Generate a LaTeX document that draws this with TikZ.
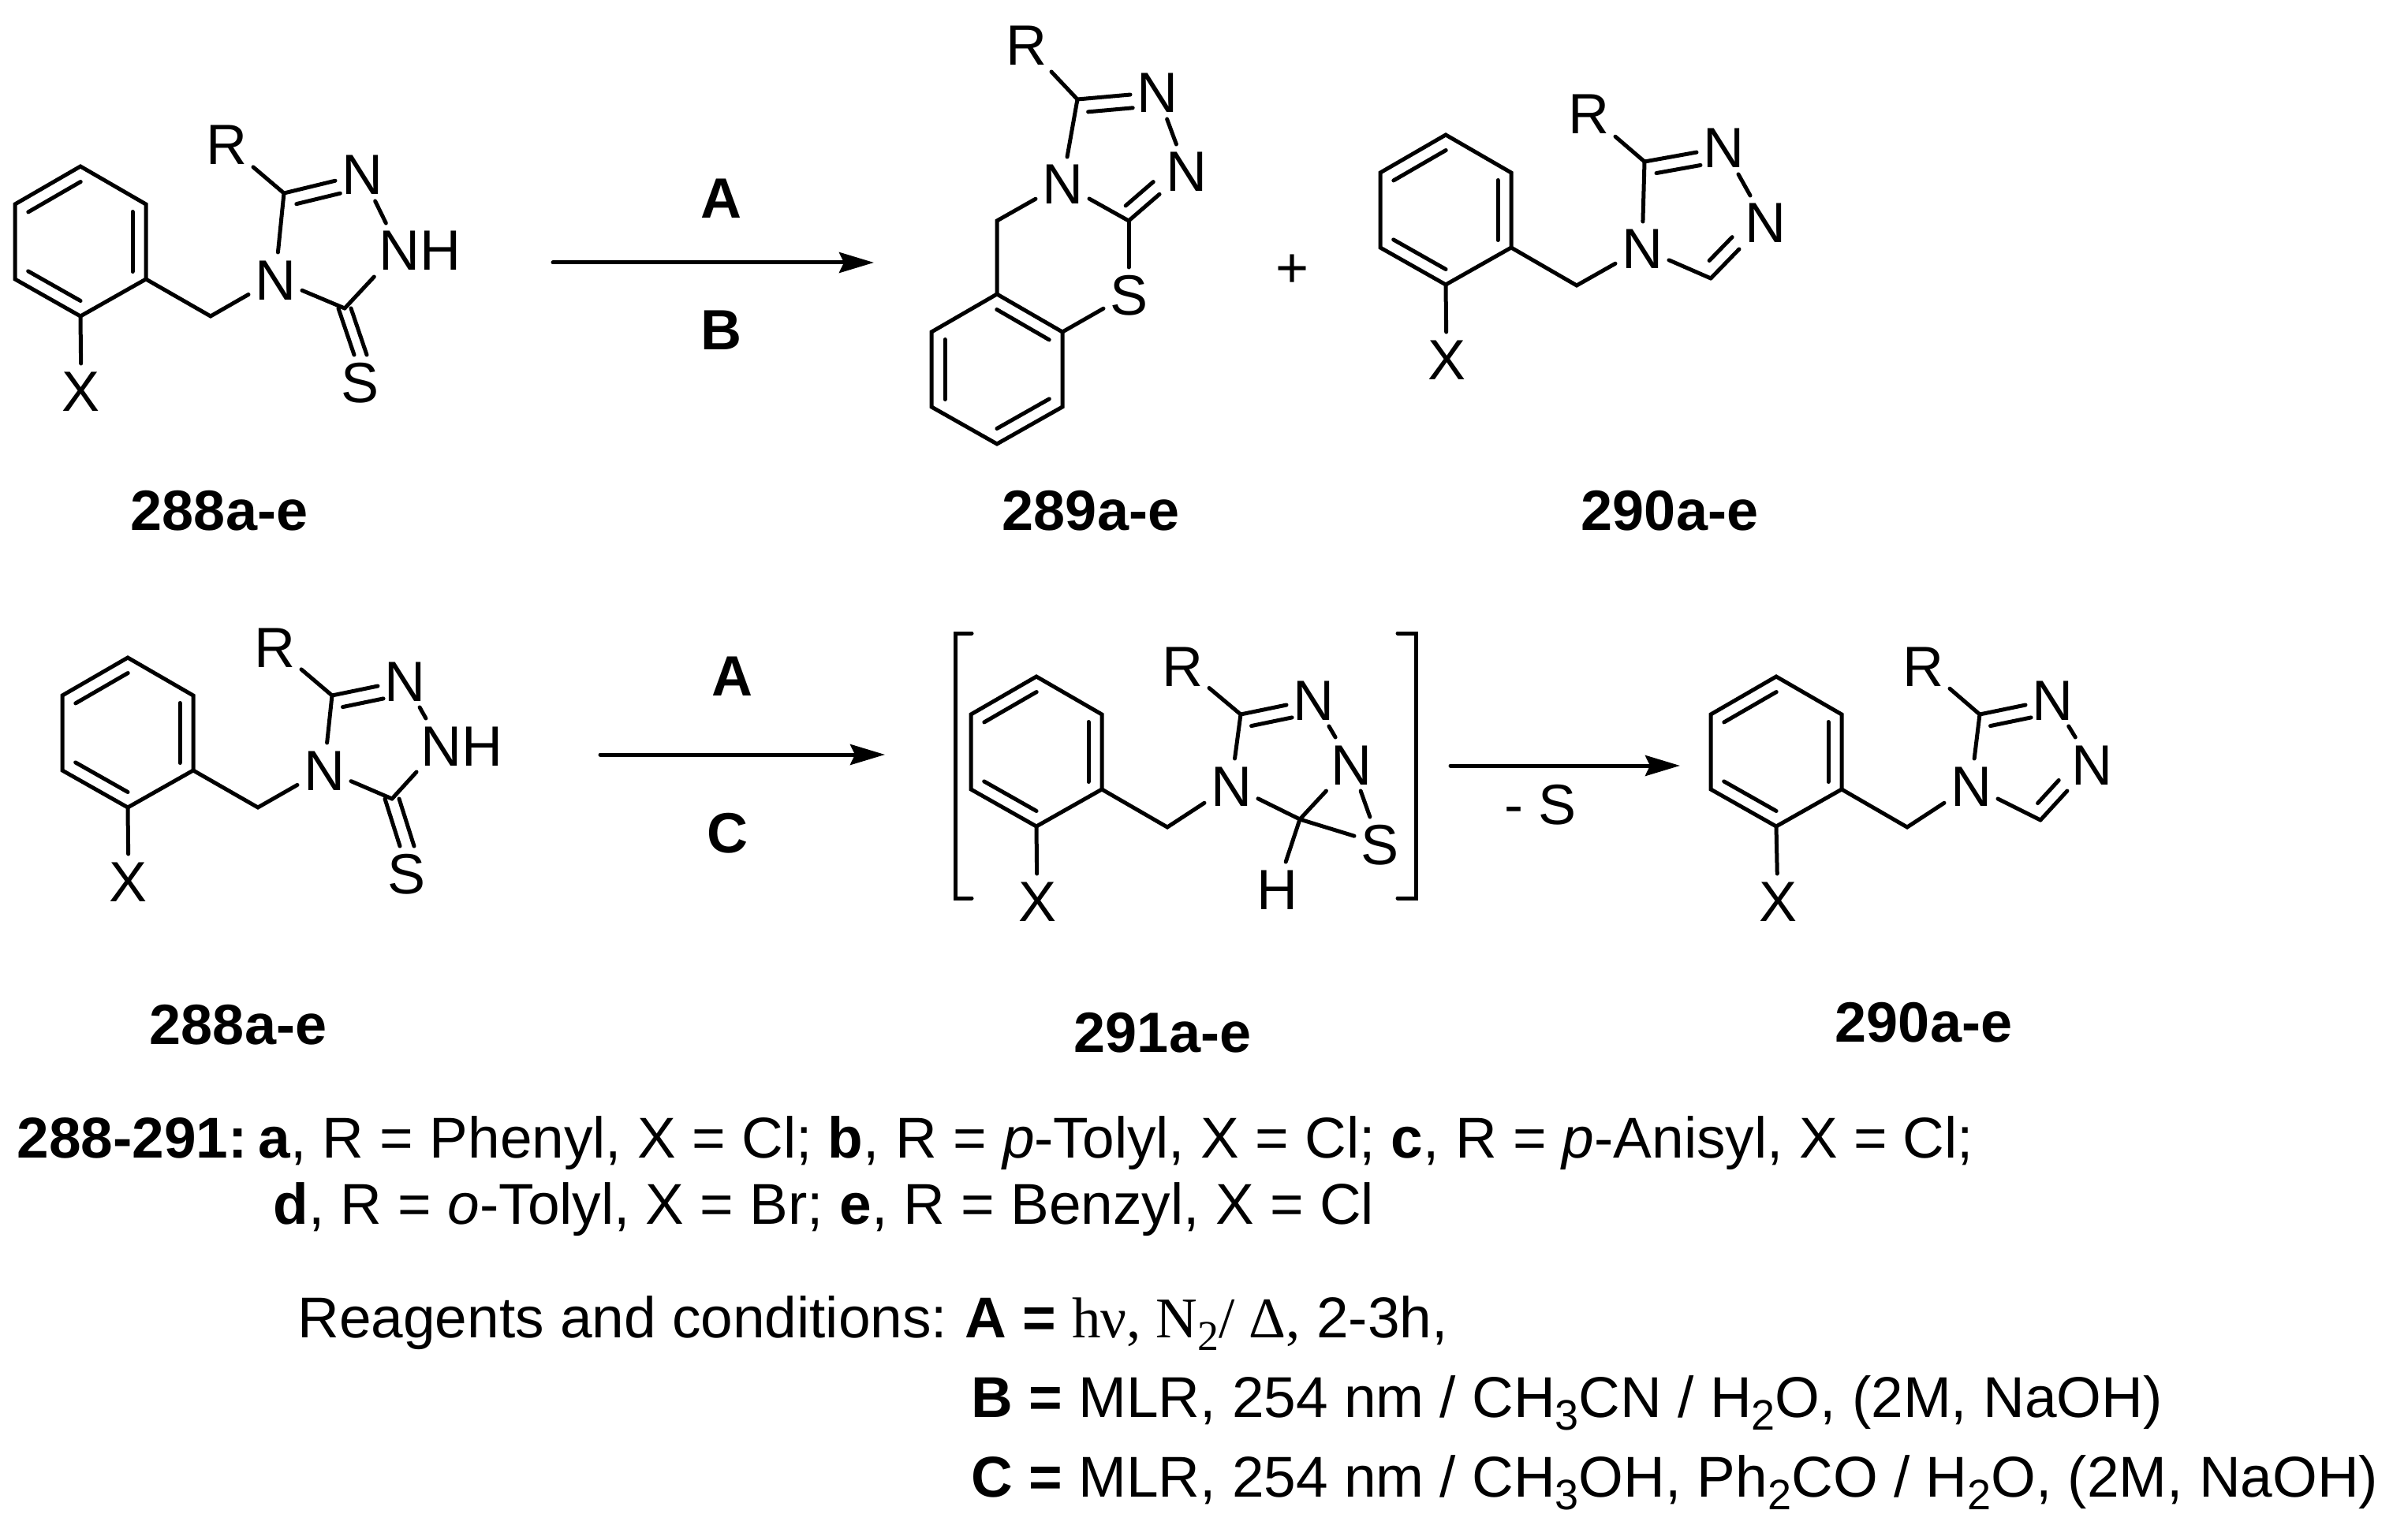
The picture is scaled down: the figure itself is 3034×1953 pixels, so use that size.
\documentclass[tikz,border=0pt]{standalone}
\usepackage{fontspec}
\setmainfont{Liberation Sans}
\newfontfamily\timesface{Liberation Serif}
\usetikzlibrary{positioning,calc,arrows.meta}
\newcommand{\dbl}[4]{\draw ($(#1)!#3!(#2)!17pt!90:(#2)$) -- ($(#2)!#4!(#1)!17pt!-90:(#1)$);}
\newcommand{\benz}[4]{
    \path (#2,#3) coordinate (#1a) ++(-83,48) coordinate (#1b) ++(0,95) coordinate (#1c)
        ++(83,47) coordinate (#1d) ++(83,-47) coordinate (#1e) ++(0,-95) coordinate (#1f);
    \draw (#1a) -- (#1b) -- (#1c) -- (#1d) -- (#1e) -- (#1f) -- cycle;
    \foreach \u/\v in {#4} {\dbl{#1\u}{#1\v}{.1}{.1}}
}
\newcommand{\sbs}[1]{\raisebox{-16pt}{\fontsize{54}{54}\selectfont #1}}
\begin{document}
\begin{tikzpicture}[x=1pt,y=-1pt,line width=5pt,line cap=round,node distance=0pt,
        atom/.style={font=\fontsize{72}{86}\selectfont,text height=52pt,text depth=0pt,inner sep=3pt,outer sep=5pt},
        cpd/.style={font=\fontsize{72}{86}\selectfont\bfseries,text height=52pt,text depth=0pt,inner sep=0pt},
        txt/.style={font=\fontsize{73}{88}\selectfont,anchor=base west,inner sep=0pt},
        arr/.style={-{Stealth[length=44pt,width=26pt,inset=6pt]}}]
    \useasboundingbox (0,0) rectangle (3034,1953);

    \benz{p}{102}{211}{a/b,c/d,e/f}
    \coordinate (c1a) at (267,401);
    \coordinate (c1b) at (360,245);
    \coordinate (c1c) at (437,391);
    \node[atom] (r1) at (287,183) {R};
    \node[atom] (x1) at (103,495) {X};
    \node[atom] (n1a) at (349,354) {N};
    \node[atom] (n1b) at (459,221) {N};
    \node[atom] (n1c) at (506,317) {N};
    \node[atom,right=-16pt of n1c] (h1) {H};
    \node[atom] (s1) at (457,484) {S};
    \draw (pd) -- (x1);
    \draw (pe) -- (c1a) -- (n1a);
    \draw (c1b) -- (r1);
    \draw (c1b) -- (n1a);
    \draw (c1b) -- (n1b);
    \dbl{n1b}{c1b}{.32}{.12}
    \draw (n1b) -- (n1c);
    \draw (n1a) -- (c1c);
    \draw (c1c) -- (n1c);
    \draw ([xshift=-8pt]c1c) -- ([xshift=-8pt]s1.north);
    \draw ([xshift=8pt]c1c) -- ([xshift=8pt]s1.north);

    \coordinate (ar1s) at (701,333);
    \coordinate (ar1e) at (1108,333);
    \draw[arr] (ar1s) -- (ar1e);
    \node[cpd] (la1) at (914,251) {A};
    \node[cpd] (lb1) at (914,417) {B};

    \benz{q}{1264}{373}{b/c,d/e,f/a}
    \coordinate (c2a) at (1264,280);
    \coordinate (c2b) at (1366,126);
    \coordinate (c2c) at (1431,280);
    \node[atom] (r2) at (1301,57) {R};
    \node[atom] (n2a) at (1347,233) {N};
    \node[atom] (n2b) at (1467,117) {N};
    \node[atom] (n2c) at (1504,217) {N};
    \node[atom] (s2) at (1431,373) {S};
    \draw (qa) -- (c2a) -- (n2a);
    \draw (c2b) -- (r2);
    \draw (c2b) -- (n2a);
    \draw (c2b) -- (n2b);
    \dbl{n2b}{c2b}{.32}{.12}
    \draw (n2b) -- (n2c);
    \draw (n2a) -- (c2c);
    \draw (c2c) -- (n2c);
    \dbl{c2c}{n2c}{.1}{.42}
    \draw (c2c) -- (s2);
    \draw (qf) -- (s2);

    \node[atom] (plus) at (1639,338) {+};

    \benz{r}{1833}{171}{a/b,c/d,e/f}
    \coordinate (c3a) at (1999,362);
    \coordinate (c3b) at (2085,205);
    \coordinate (c3c) at (2169,353);
    \node[atom] (r3) at (2014,144) {R};
    \node[atom] (x3) at (1834,455) {X};
    \node[atom] (n3a) at (2082,315) {N};
    \node[atom] (n3b) at (2185,187) {N};
    \node[atom] (n3c) at (2238,282) {N};
    \draw (rd) -- (x3);
    \draw (re) -- (c3a) -- (n3a);
    \draw (c3b) -- (r3);
    \draw (c3b) -- (n3a);
    \draw (c3b) -- (n3b);
    \dbl{n3b}{c3b}{.32}{.12}
    \draw (n3b) -- (n3c);
    \draw (n3a) -- (c3c);
    \draw (c3c) -- (n3c);
    \dbl{c3c}{n3c}{.15}{.43}

    \node[cpd] (cp288) at (278,646) {288a-e};
    \node[cpd] (cp289) at (1383,646) {289a-e};
    \node[cpd] (cp290) at (2117,646) {290a-e};

    \benz{s}{162}{834}{a/b,c/d,e/f}
    \coordinate (c4a) at (327,1024);
    \coordinate (c4b) at (421,882);
    \coordinate (c4c) at (497,1013);
    \node[atom] (r4) at (348,820) {R};
    \node[atom] (x4) at (163,1117) {X};
    \node[atom] (n4a) at (411,976) {N};
    \node[atom] (n4b) at (513,863) {N};
    \node[atom] (n4c) at (559,945) {N};
    \node[atom,right=-16pt of n4c] (h4) {H};
    \node[atom] (s4) at (516,1107) {S};
    \draw (sd) -- (x4);
    \draw (se) -- (c4a) -- (n4a);
    \draw (c4b) -- (r4);
    \draw (c4b) -- (n4a);
    \draw (c4b) -- (n4b);
    \dbl{n4b}{c4b}{.33}{.11}
    \draw (n4b) -- (n4c);
    \draw (n4a) -- (c4c);
    \draw (c4c) -- (n4c);
    \draw ([xshift=-9pt]c4c) -- ([xshift=-9pt]s4.north);
    \draw ([xshift=9pt]c4c) -- ([xshift=9pt]s4.north);

    \coordinate (ar2s) at (761,957);
    \coordinate (ar2e) at (1122,957);
    \draw[arr] (ar2s) -- (ar2e);
    \node[cpd] (la2) at (928,856) {A};
    \node[cpd] (lc2) at (922,1055) {C};

    \draw (1232,803) -- (1211,803) -- (1211,1139) -- (1232,1139);
    \draw (1772,803) -- (1795,803) -- (1795,1139) -- (1772,1139);
    \benz{t}{1314}{858}{a/b,c/d,e/f}
    \coordinate (c5a) at (1480,1049);
    \coordinate (c5b) at (1573,906);
    \coordinate (c5c) at (1648,1039);
    \node[atom] (r5) at (1499,844) {R};
    \node[atom] (x5) at (1315,1142) {X};
    \node[atom] (n5a) at (1561,996) {N};
    \node[atom] (n5b) at (1665,887) {N};
    \node[atom] (n5c) at (1713,969) {N};
    \node[atom] (s5) at (1749,1070) {S};
    \node[atom] (h5) at (1619,1127) {H};
    \draw (td) -- (x5);
    \draw (te) -- (c5a) -- (n5a);
    \draw (c5b) -- (r5);
    \draw (c5b) -- (n5a);
    \draw (c5b) -- (n5b);
    \dbl{n5b}{c5b}{.33}{.11}
    \draw (n5b) -- (n5c);
    \draw (n5a) -- (c5c) -- (s5);
    \draw (n5c) -- (c5c) -- (h5);
    \draw (n5c) -- (s5);

    \coordinate (ar3s) at (1839,971);
    \coordinate (ar3e) at (2130,971);
    \draw[arr] (ar3s) -- (ar3e);
    \node[atom] (ms) at (1953,1019) {- S};

    \benz{u}{2252}{858}{a/b,c/d,e/f}
    \coordinate (c6a) at (2418,1049);
    \coordinate (c6b) at (2510,906);
    \coordinate (c6c) at (2587,1040);
    \node[atom] (r6) at (2438,844) {R};
    \node[atom] (x6) at (2254,1142) {X};
    \node[atom] (n6a) at (2499,996) {N};
    \node[atom] (n6b) at (2602,887) {N};
    \node[atom] (n6c) at (2652,969) {N};
    \draw (ud) -- (x6);
    \draw (ue) -- (c6a) -- (n6a);
    \draw (c6b) -- (r6);
    \draw (c6b) -- (n6a);
    \draw (c6b) -- (n6b);
    \dbl{n6b}{c6b}{.33}{.11}
    \draw (n6b) -- (n6c);
    \draw (n6a) -- (c6c);
    \draw (c6c) -- (n6c);
    \dbl{c6c}{n6c}{.14}{.45}

    \node[cpd] (cp288b) at (302,1298) {288a-e};
    \node[cpd] (cp291) at (1474,1308) {291a-e};
    \node[cpd] (cp290b) at (2439,1295) {290a-e};

    \node[txt] (line1) at (19,1468) {\textbf{288-291:}\hspace{14pt}\textbf{a}, R = Phenyl, X = Cl; \textbf{b}, R = \textit{p}-Tolyl, X = Cl; \textbf{c}, R = \textit{p}-Anisyl, X = Cl;};
    \node[txt] (line2) at (344,1552) {\textbf{d}, R = \textit{o}-Tolyl, X = Br; \textbf{e}, R = Benzyl, X = Cl};
    \node[txt] (reag) at (375,1696) {Reagents and conditions:};
    \node[txt] (condA) at (1221,1696) {\textbf{A =} {\timesface hν, N\sbs{2}/ Δ,} 2-3h,};
    \node[txt] (condB) at (1229,1797) {\textbf{B =} MLR, 254 nm / CH\sbs{3}CN / H\sbs{2}O, (2M, NaOH)};
    \node[txt] (condC) at (1229,1898) {\textbf{C =} MLR, 254 nm / CH\sbs{3}OH, Ph\sbs{2}CO / H\sbs{2}O, (2M, NaOH)};
\end{tikzpicture}
\end{document}
